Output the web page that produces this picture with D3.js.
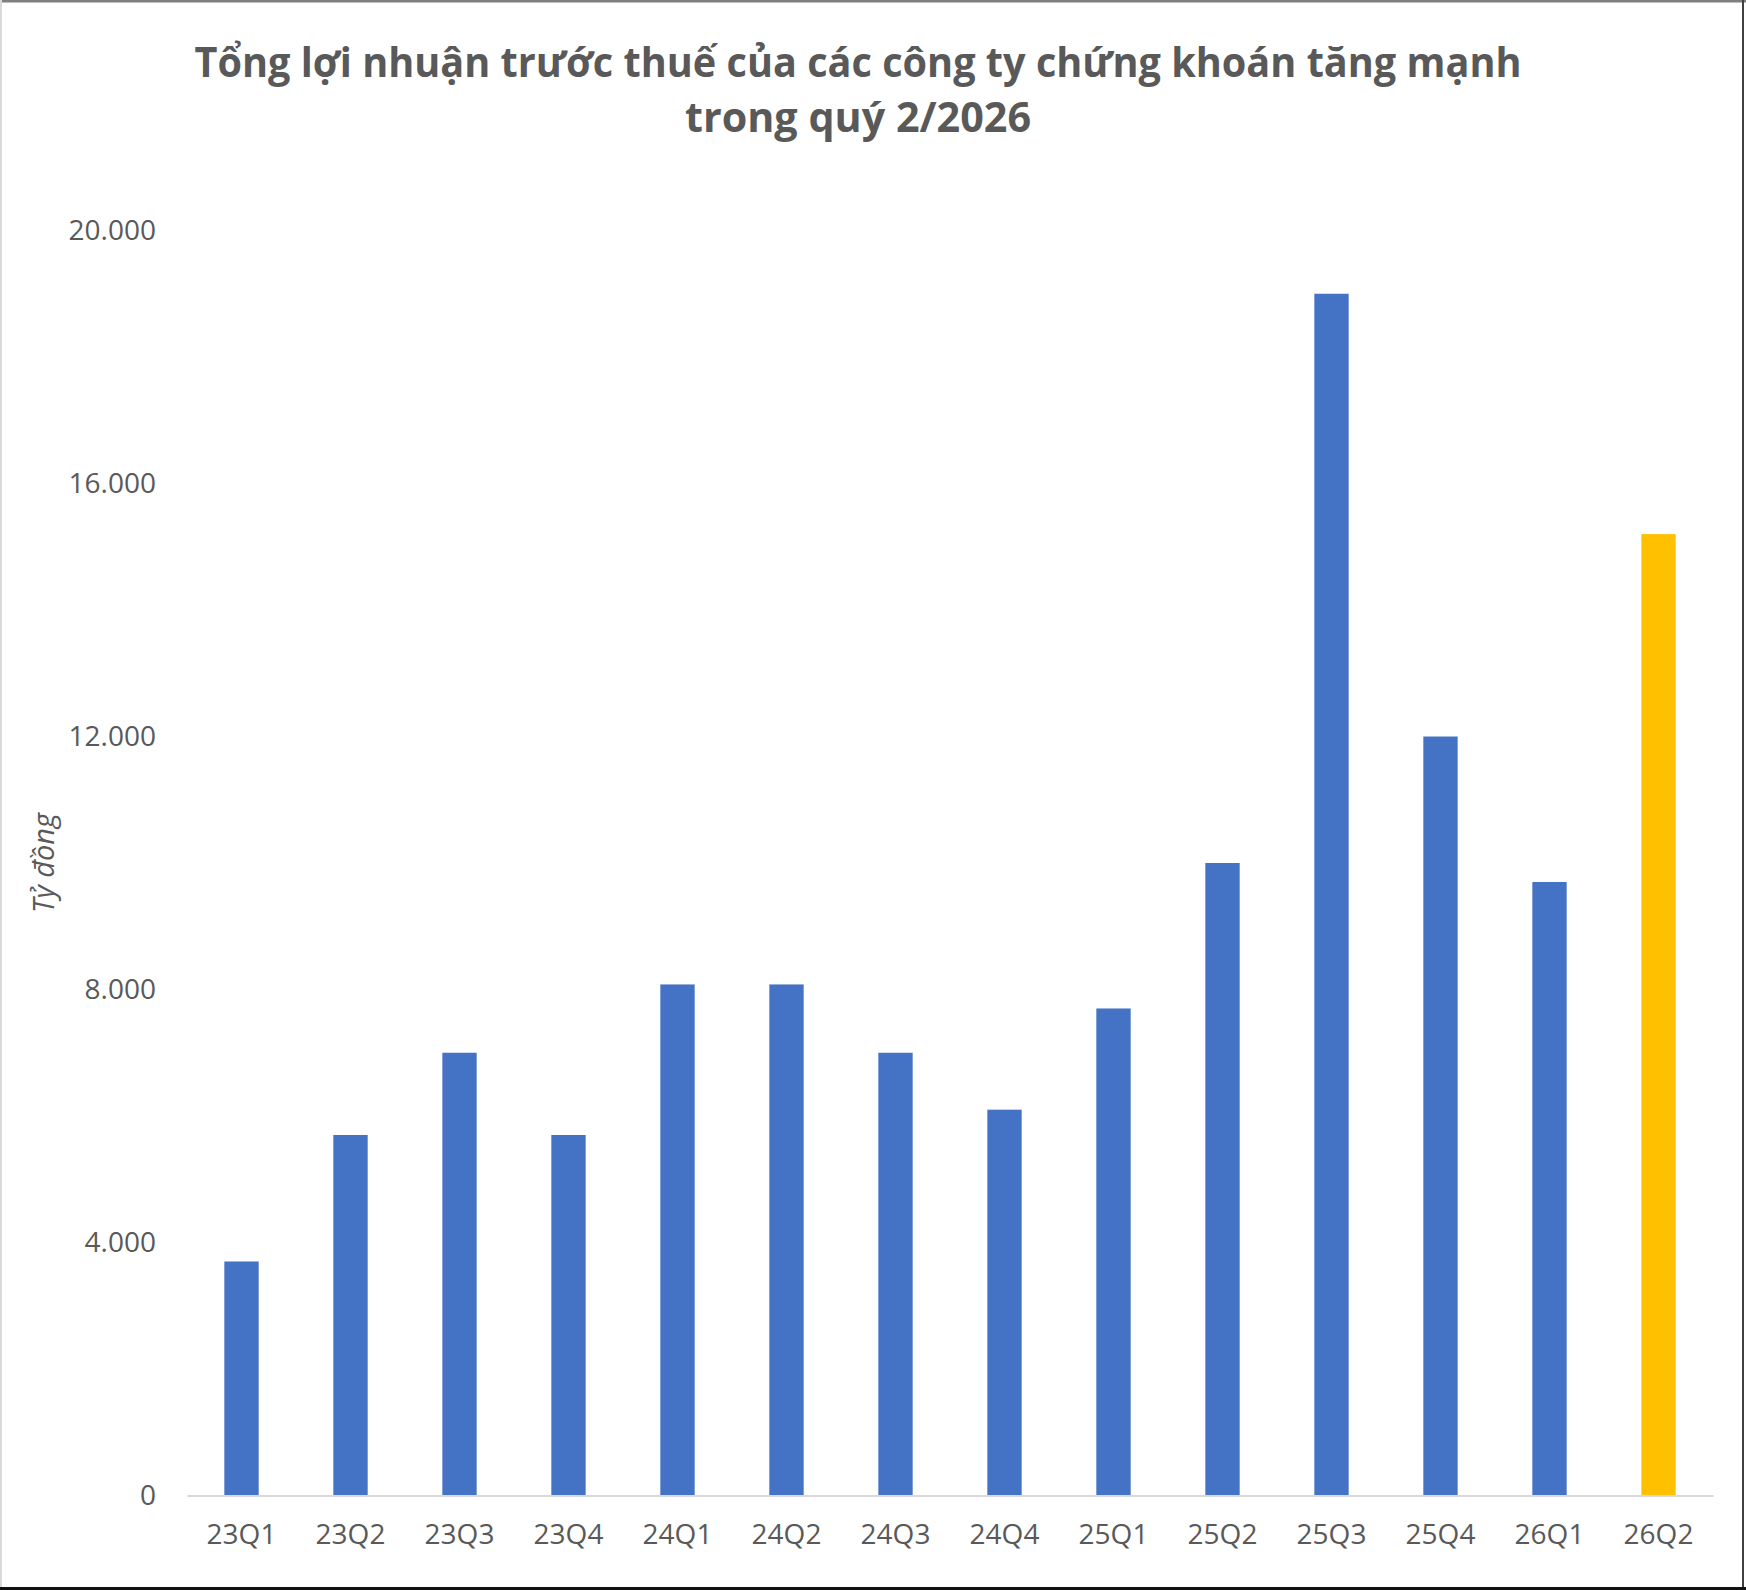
<!DOCTYPE html>
<html>
<head>
<meta charset="utf-8">
<script src="https://cdn.jsdelivr.net/npm/d3@7"></script>
<style>
  html, body { margin: 0; padding: 0; background: #fff; }
  svg { display: block; }
</style>
</head>
<body>
<div id="wrapper"></div>
<script>
// data
const quarters = ['23Q1', '23Q2', '23Q3', '23Q4', '24Q1', '24Q2', '24Q3', '24Q4',
    '25Q1', '25Q2', '25Q3', '25Q4', '26Q1', '26Q2']
const profits = [3700, 5700, 7000, 5700, 8080, 8080, 7000, 6100,
    7700, 10000, 19000, 12000, 9700, 15200]
const highlight = ['26Q2']
const yTicks = [0, 4000, 8000, 12000, 16000, 20000]
const titleLines = ['Tổng lợi nhuận trước thuế của các công ty chứng khoán tăng mạnh', 'trong quý 2/2026']
const yLabel = 'Tỷ đồng'

const data = quarters.map((q, i) => ({ q, v: profits[i] }))

// dimensions
const dms = {
    width: 1746,
    height: 1590,
    margins: { top: 230.5, right: 33, bottom: 94.5, left: 187 }
}
dms.boundedWidth = dms.width - dms.margins.left - dms.margins.right
dms.boundedHeight = dms.height - dms.margins.top - dms.margins.bottom

const textColor = '#595959'
const font = '"Open Sans", "Noto Sans", sans-serif'

const svg = d3.select('#wrapper')
    .append('svg')
        .attr('width', dms.width)
        .attr('height', dms.height)

svg.append('rect')
    .attr('width', dms.width)
    .attr('height', dms.height)
    .attr('fill', '#fff')

// frame round the picture
svg.append('line').attr('x1', 0).attr('x2', dms.width).attr('y1', 1).attr('y2', 1)
    .attr('stroke', '#7f7f7f').attr('stroke-width', 3)
svg.append('line').attr('x1', 1).attr('x2', 1).attr('y1', 0).attr('y2', dms.height)
    .attr('stroke', '#d9d9d9').attr('stroke-width', 2)
svg.append('line').attr('x1', 1743).attr('x2', 1743).attr('y1', 0).attr('y2', dms.height)
    .attr('stroke', '#404040').attr('stroke-width', 2)
svg.append('line').attr('x1', 0).attr('x2', dms.width).attr('y1', 1588.5).attr('y2', 1588.5)
    .attr('stroke', '#111').attr('stroke-width', 3)

const bounds = svg.append('g')
    .attr('transform', `translate(${dms.margins.left},${dms.margins.top})`)

// scales
const xScale = d3.scaleBand()
    .domain(quarters)
    .range([0, dms.boundedWidth])
    .paddingInner(0.685)
    .paddingOuter(0.3425)

const yScale = d3.scaleLinear()
    .domain([0, 20000])
    .range([dms.boundedHeight, 0])

// bars
bounds.selectAll('rect.bar')
    .data(data)
    .join('rect')
        .attr('class', 'bar')
        .attr('x', d => xScale(d.q))
        .attr('y', d => yScale(d.v))
        .attr('width', xScale.bandwidth())
        .attr('height', d => dms.boundedHeight - yScale(d.v))
        .attr('fill', d => highlight.includes(d.q) ? '#FFC000' : '#4472C4')

// y axis, labels only
const yAxis = bounds.append('g')
    .call(d3.axisLeft(yScale)
        .tickValues(yTicks)
        .tickSize(0)
        .tickPadding(31)
        .tickFormat(d => d3.format(',')(d).replace(/,/g, '.')))
yAxis.select('.domain').remove()
yAxis.selectAll('text')
    .attr('fill', textColor)
    .style('font-family', font)
    .style('font-size', '28px')

// x axis
const xAxis = bounds.append('g')
    .attr('transform', `translate(0,${dms.boundedHeight})`)
    .call(d3.axisBottom(xScale).tickSize(0).tickPadding(29))
xAxis.select('.domain')
    .attr('stroke', '#d9d9d9')
    .attr('stroke-width', 2)
xAxis.selectAll('text')
    .attr('fill', textColor)
    .style('font-family', font)
    .style('font-size', '28px')

// axis title
svg.append('text')
    .attr('transform', 'translate(54,863) rotate(-90)')
    .attr('text-anchor', 'middle')
    .attr('fill', textColor)
    .style('font-family', font)
    .style('font-style', 'italic')
    .style('font-size', '29px')
    .text(yLabel)

// chart title
const titleWidths = [1327, 346]
svg.selectAll('text.title')
    .data(titleLines)
    .join('text')
        .attr('class', 'title')
        .attr('x', 858)
        .attr('y', (d, i) => 77 + i * 55)
        .attr('text-anchor', 'middle')
        .attr('fill', textColor)
        .attr('textLength', (d, i) => titleWidths[i])
        .attr('lengthAdjust', 'spacingAndGlyphs')
        .style('font-family', font)
        .style('font-weight', 700)
        .style('font-size', '42px')
        .text(d => d)
</script>
</body>
</html>
